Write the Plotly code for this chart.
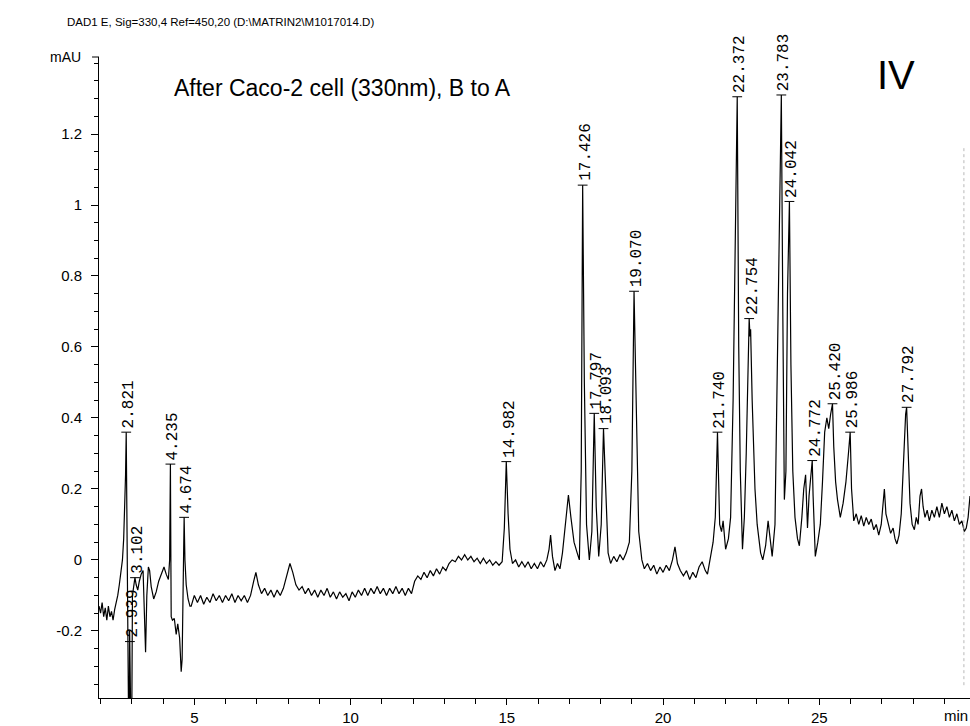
import plotly.graph_objects as go

# ---------------- data ----------------
# (retention time [min], absorbance [mAU]), region by region
seg_start = [
    (1.95, -0.13), (2.00, -0.15), (2.05, -0.12), (2.10, -0.16), (2.15, -0.135), (2.20, -0.17),
    (2.25, -0.13), (2.30, -0.16), (2.35, -0.145), (2.40, -0.17), (2.45, -0.14), (2.50, -0.12),
    (2.55, -0.10), (2.60, -0.07), (2.65, -0.04), (2.70, 0.00), (2.74, 0.06), (2.78, 0.15),
    (2.80, 0.24), (2.821, 0.36), (2.85, 0.02), (2.88, -0.6), (2.91, -0.6), (2.93, -0.2),
    (2.96, -0.6), (2.99, -0.6), (3.02, -0.10), (3.06, -0.08), (3.10, -0.05), (3.14, -0.07),
    (3.19, -0.085), (3.24, -0.06), (3.30, -0.04), (3.36, -0.03), (3.40, -0.12), (3.44, -0.26),
    (3.48, -0.10), (3.53, -0.02), (3.57, -0.03), (3.62, -0.075), (3.70, -0.11), (3.78, -0.09),
    (3.86, -0.06), (3.95, -0.04), (4.03, -0.02), (4.10, -0.04), (4.17, -0.055), (4.21, 0.00),
    (4.235, 0.27), (4.25, 0.00), (4.26, -0.16), (4.30, -0.17), (4.36, -0.165), (4.42, -0.21),
    (4.47, -0.18), (4.53, -0.22), (4.58, -0.315), (4.61, -0.28), (4.64, -0.05), (4.674, 0.12),
    (4.70, 0.00), (4.74, -0.07), (4.80, -0.11), (4.86, -0.13),
]
seg_early = [
    (4.9, -0.13), (5.0, -0.10), (5.1, -0.12), (5.2, -0.10), (5.3, -0.125), (5.4, -0.105),
    (5.5, -0.12), (5.6, -0.095), (5.7, -0.115), (5.8, -0.10), (5.9, -0.12), (6.0, -0.10),
    (6.1, -0.115), (6.2, -0.095), (6.3, -0.12), (6.4, -0.10), (6.5, -0.115), (6.6, -0.10),
    (6.7, -0.12), (6.8, -0.10), (6.9, -0.06), (6.97, -0.035), (7.05, -0.07), (7.15, -0.095),
    (7.25, -0.08), (7.35, -0.10), (7.45, -0.085), (7.55, -0.105), (7.65, -0.085), (7.75, -0.10),
    (7.85, -0.08), (7.95, -0.05), (8.06, -0.01), (8.15, -0.035), (8.25, -0.07), (8.35, -0.085),
    (8.45, -0.075), (8.55, -0.095), (8.65, -0.08), (8.75, -0.10), (8.85, -0.085), (8.95, -0.105),
    (9.05, -0.085), (9.15, -0.10), (9.25, -0.08), (9.35, -0.105), (9.45, -0.09), (9.55, -0.11),
    (9.65, -0.09), (9.75, -0.105), (9.85, -0.095), (9.95, -0.115), (10.05, -0.09), (10.15, -0.105),
    (10.25, -0.085), (10.35, -0.10), (10.45, -0.08), (10.55, -0.10), (10.65, -0.08), (10.75, -0.095),
    (10.85, -0.075), (10.95, -0.095), (11.05, -0.08), (11.15, -0.10), (11.25, -0.08), (11.35, -0.095),
    (11.45, -0.075), (11.55, -0.095), (11.65, -0.08), (11.75, -0.10), (11.85, -0.08), (11.95, -0.095),
]
seg_mid = [
    (12.05, -0.06), (12.15, -0.045), (12.25, -0.055), (12.35, -0.035), (12.45, -0.05), (12.55, -0.03),
    (12.65, -0.045), (12.75, -0.025), (12.85, -0.04), (12.95, -0.02), (13.05, -0.03), (13.15, -0.01),
    (13.25, 0.00), (13.35, -0.005), (13.45, 0.01), (13.55, 0.00), (13.65, 0.015), (13.75, 0.00),
    (13.85, 0.01), (13.95, -0.005), (14.05, 0.005), (14.15, -0.01), (14.25, 0.005), (14.35, -0.01),
    (14.45, 0.00), (14.55, -0.015), (14.65, -0.005), (14.75, -0.015), (14.85, -0.005), (14.92, 0.09),
    (14.982, 0.277), (15.04, 0.13), (15.10, 0.03), (15.18, -0.01), (15.28, 0.00), (15.38, -0.02),
    (15.48, -0.005), (15.58, -0.02), (15.68, -0.005), (15.78, -0.025), (15.88, -0.01), (15.98, -0.025),
    (16.08, -0.005), (16.18, -0.02), (16.28, 0.00), (16.35, 0.03), (16.40, 0.07), (16.46, 0.01),
    (16.54, -0.03), (16.62, -0.01), (16.70, -0.025), (16.78, 0.02), (16.88, 0.11), (16.97, 0.183),
    (17.05, 0.12), (17.15, 0.05), (17.25, 0.02), (17.32, 0.00), (17.38, 0.25), (17.426, 1.056),
    (17.48, 0.50), (17.55, 0.10), (17.64, 0.00), (17.72, 0.08), (17.797, 0.413), (17.86, 0.15),
    (17.94, 0.01), (18.02, 0.10), (18.093, 0.37), (18.16, 0.20), (18.24, 0.02), (18.32, -0.01),
    (18.42, 0.01), (18.52, -0.005), (18.62, 0.015), (18.72, 0.00), (18.82, 0.02), (18.92, 0.05),
    (19.00, 0.25), (19.07, 0.757), (19.14, 0.40), (19.22, 0.08), (19.32, 0.00), (19.40, -0.025),
    (19.50, -0.01), (19.60, -0.03), (19.70, -0.015), (19.80, -0.04), (19.90, -0.02), (20.00, -0.035),
    (20.10, -0.015), (20.20, -0.03), (20.30, 0.00), (20.38, 0.037), (20.46, -0.01), (20.55, -0.03),
    (20.65, -0.045), (20.75, -0.03), (20.85, -0.055), (20.95, -0.035), (21.05, -0.05), (21.15, -0.02),
    (21.25, -0.005), (21.35, -0.03), (21.42, -0.04), (21.50, 0.00), (21.60, 0.05), (21.67, 0.12),
]
seg_peaks = [
    (21.74, 0.36), (21.81, 0.10), (21.87, 0.08), (21.92, 0.11), (22.00, 0.03), (22.09, 0.06),
    (22.16, 0.12), (22.24, 0.45), (22.30, 0.90), (22.372, 1.305), (22.42, 0.60), (22.47, 0.25),
    (22.54, 0.03), (22.60, 0.12), (22.66, 0.30), (22.72, 0.60), (22.754, 0.68), (22.78, 0.63),
    (22.80, 0.65), (22.85, 0.45), (22.94, 0.20), (23.01, 0.10), (23.12, 0.02), (23.19, 0.00),
    (23.28, 0.04), (23.36, 0.11), (23.43, 0.06), (23.49, 0.01), (23.58, 0.10), (23.65, 0.55),
    (23.72, 1.05), (23.783, 1.31), (23.83, 0.70), (23.88, 0.17), (23.93, 0.25), (23.98, 0.75),
    (24.042, 1.01), (24.09, 0.55), (24.15, 0.25), (24.22, 0.12), (24.30, 0.06), (24.36, 0.04),
    (24.44, 0.12), (24.50, 0.20), (24.56, 0.24), (24.62, 0.09), (24.67, 0.18), (24.72, 0.23),
    (24.772, 0.28), (24.80, 0.18), (24.87, 0.01), (24.95, 0.05), (25.03, 0.10), (25.10, 0.22),
    (25.17, 0.36), (25.24, 0.40), (25.30, 0.37), (25.36, 0.41), (25.42, 0.44), (25.46, 0.32),
    (25.52, 0.22), (25.58, 0.17), (25.67, 0.12), (25.76, 0.16), (25.85, 0.22), (25.93, 0.30),
    (25.986, 0.36), (26.03, 0.20), (26.09, 0.12),
]
seg_late = [
    (26.10, 0.11), (26.18, 0.13), (26.26, 0.10), (26.34, 0.125), (26.42, 0.095), (26.50, 0.12),
    (26.58, 0.10), (26.66, 0.115), (26.74, 0.085), (26.82, 0.10), (26.90, 0.07), (26.98, 0.10),
    (27.04, 0.15), (27.08, 0.20), (27.13, 0.13), (27.20, 0.10), (27.28, 0.075), (27.36, 0.09),
    (27.42, 0.06), (27.48, 0.045), (27.55, 0.07), (27.62, 0.13), (27.70, 0.30), (27.76, 0.41),
    (27.792, 0.43), (27.84, 0.30), (27.90, 0.16), (27.97, 0.10), (28.04, 0.085), (28.10, 0.12),
    (28.16, 0.10), (28.22, 0.18), (28.27, 0.20), (28.32, 0.15), (28.38, 0.12), (28.45, 0.14),
    (28.52, 0.11), (28.60, 0.14), (28.68, 0.12), (28.76, 0.15), (28.84, 0.12), (28.92, 0.16),
    (29.00, 0.13), (29.08, 0.15), (29.16, 0.12), (29.24, 0.14), (29.32, 0.11), (29.40, 0.13),
    (29.48, 0.10), (29.56, 0.11), (29.64, 0.08), (29.70, 0.09), (29.76, 0.12), (29.82, 0.18),
]

# peak retention-time labels and the level at which each label starts
peak_labels = ["2.821", "2.939", "3.102", "4.235", "4.674", "14.982", "17.426", "17.797",
               "18.093", "19.070", "21.740", "22.372", "22.754", "23.783", "24.042",
               "24.772", "25.420", "25.986", "27.792"]
peak_label_mau = [0.36, -0.23, -0.05, 0.27, 0.12, 0.277, 1.056, 0.413,
                  0.37, 0.757, 0.36, 1.305, 0.68, 1.31, 1.01,
                  0.28, 0.44, 0.36, 0.43]

y_tick_vals = [-0.2, 0, 0.2, 0.4, 0.6, 0.8, 1, 1.2]
y_tick_text = ["-0.2", "0", "0.2", "0.4", "0.6", "0.8", "1", "1.2"]
x_range = [1.95, 29.82]
y_range = [-0.389, 1.417]

header_text = "DAD1 E, Sig=330,4 Ref=450,20 (D:\\MATRIN2\\M1017014.D)"
title_text = "After Caco-2 cell (330nm), B to A"
panel_text = "IV"

# ---------------- build figure ----------------
trace_pts = seg_start + seg_early + seg_mid + seg_peaks + seg_late
time_min = [p[0] for p in trace_pts]
signal_mau = [p[1] for p in trace_pts]
peak_t = [float(s) for s in peak_labels]

fig = go.Figure()
fig.add_trace(go.Scatter(x=time_min, y=signal_mau, mode="lines",
                         line=dict(color="black", width=1.2), hoverinfo="skip"))
fig.add_trace(go.Scatter(x=peak_t, y=peak_label_mau, mode="markers",
                         marker=dict(symbol="line-ew", size=7,
                                     line=dict(color="black", width=1)),
                         hoverinfo="skip"))

for lbl, yv in zip(peak_labels, peak_label_mau):
    fig.add_annotation(x=float(lbl), y=yv, text=lbl, textangle=-90, showarrow=False,
                       xanchor="center", yanchor="bottom", xshift=3, yshift=2,
                       font=dict(family="Liberation Mono, DejaVu Sans Mono, monospace",
                                 size=16, color="black"))

fig.add_annotation(xref="paper", yref="paper", x=-0.039, y=1.0546, text=header_text,
                   showarrow=False, xanchor="left", yanchor="middle",
                   font=dict(family="Liberation Sans, Arial", size=11.5, color="black"))
fig.add_annotation(xref="paper", yref="paper", x=-0.018, y=1.0, text="mAU",
                   showarrow=False, xanchor="right", yanchor="middle",
                   font=dict(family="Liberation Sans, Arial", size=14, color="black"))
fig.add_annotation(xref="paper", yref="paper", x=0.0838, y=0.9516, text=title_text,
                   showarrow=False, xanchor="left", yanchor="middle",
                   font=dict(family="Liberation Sans, Arial", size=23, color="black"))
fig.add_annotation(xref="paper", yref="paper", x=0.915, y=0.972, text=panel_text,
                   showarrow=False, xanchor="center", yanchor="middle",
                   font=dict(family="Liberation Sans, Arial", size=40, color="black"))
fig.add_annotation(xref="paper", yref="paper", x=1.0, y=-0.027, text="min",
                   showarrow=False, xanchor="right", yanchor="middle",
                   font=dict(family="Liberation Sans, Arial", size=15, color="black"))

# top tick of the y axis (beside "mAU") and faint scan line on the right
fig.add_shape(type="line", xref="paper", yref="paper", x0=-0.008, x1=0, y0=1, y1=1,
              line=dict(color="black", width=1))
fig.add_shape(type="line", xref="paper", yref="paper", x0=0.993, x1=0.993, y0=0.02, y1=0.86,
              line=dict(color="#b8b8b8", width=1, dash="dot"))

fig.update_layout(
    width=970, height=726,
    margin=dict(l=99, r=0, t=57, b=28),
    paper_bgcolor="white", plot_bgcolor="white",
    showlegend=False,
    xaxis=dict(range=x_range, showgrid=False, zeroline=False,
               showline=True, linecolor="black", linewidth=1,
               ticks="outside", ticklen=6, tickcolor="black", tickwidth=1,
               tickmode="linear", tick0=0, dtick=5,
               minor=dict(tickmode="linear", tick0=0, dtick=1, ticks="outside",
                          ticklen=5, tickcolor="black", showgrid=False),
               tickfont=dict(family="Liberation Sans, Arial", size=15, color="black")),
    yaxis=dict(range=y_range, showgrid=False, zeroline=False,
               showline=True, linecolor="black", linewidth=1,
               ticks="outside", ticklen=7, tickcolor="black", tickwidth=1,
               tickmode="array", tickvals=y_tick_vals, ticktext=y_tick_text,
               ticklabelstandoff=6,
               minor=dict(tickmode="linear", tick0=0, dtick=0.05, ticks="outside",
                          ticklen=4, tickcolor="black", showgrid=False),
               tickfont=dict(family="Liberation Sans, Arial", size=15, color="black")),
)

# remove the default page margin so the 970x726 figure fills the window exactly
fig.write_html("out.html",
               config={"displayModeBar": False},
               post_script="document.body.style.margin='0';"
                           "document.body.style.overflow='hidden';")
